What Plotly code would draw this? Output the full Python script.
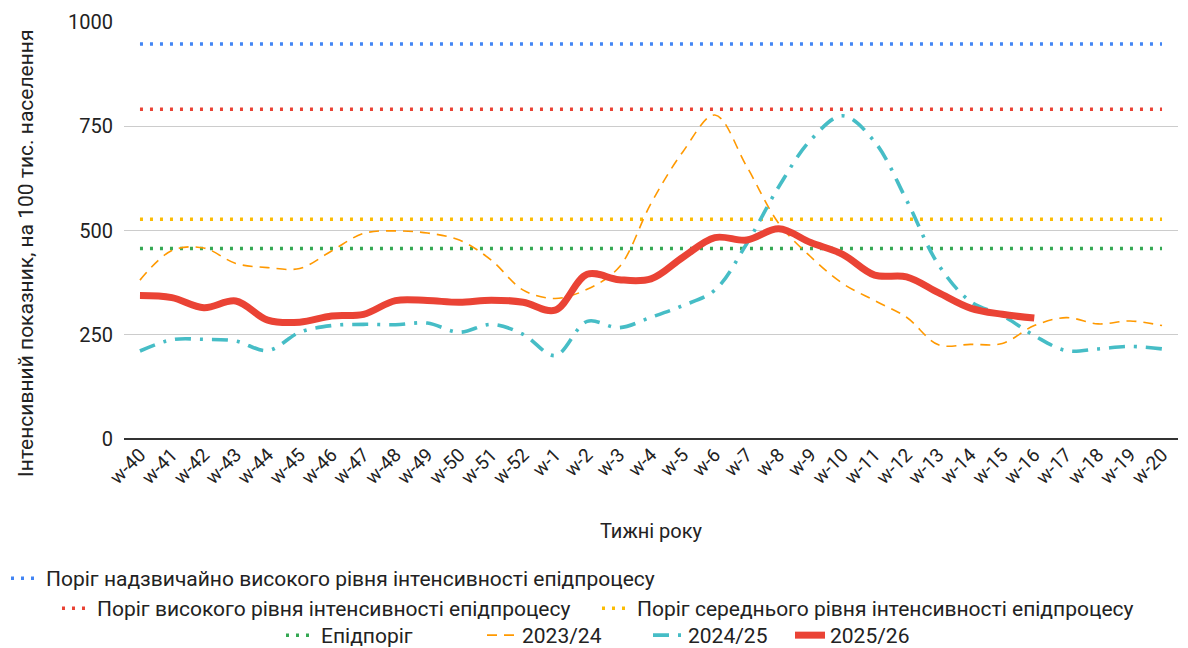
import plotly.graph_objects as go

weeks = ["w-40", "w-41", "w-42", "w-43", "w-44", "w-45", "w-46", "w-47", "w-48", "w-49",
         "w-50", "w-51", "w-52", "w-1", "w-2", "w-3", "w-4", "w-5", "w-6", "w-7", "w-8",
         "w-9", "w-10", "w-11", "w-12", "w-13", "w-14", "w-15", "w-16", "w-17", "w-18",
         "w-19", "w-20"]

very_high_threshold = 947
high_threshold = 791
medium_threshold = 527
epi_threshold = 457

s2023 = [381, 452, 458, 421, 411, 409, 451, 493, 499, 494, 477, 429, 357, 337, 359, 412,
         565, 689, 777, 653, 517, 437, 373, 332, 292, 226, 227, 229, 272, 291, 276, 283, 272]
s2024 = [211, 238, 239, 235, 212, 256, 272, 275, 274, 278, 256, 275, 251, 200, 282, 267,
         292, 320, 357, 469, 605, 717, 775, 713, 573, 418, 330, 296, 248, 212, 216, 222, 216]
s2025 = [344, 339, 315, 331, 285, 280, 295, 299, 332, 332, 328, 333, 328, 309, 395, 382,
         384, 436, 483, 477, 504, 471, 443, 393, 389, 351, 314, 299, 290]

y_title = "Інтенсивний показник, на 100 тис. населення"
x_title = "Тижні року"

FONT = "Roboto, Arial, sans-serif"
TXT = "#222222"

fig = go.Figure()
n = len(weeks)

def thr(name, val, color, legend):
    fig.add_trace(go.Scatter(
        x=weeks, y=[val] * n, mode="lines", name=name,
        line=dict(color=color, width=3.5, dash="3px,7px"),
        legend=legend, hoverinfo="skip"))

thr("Поріг надзвичайно високого рівня інтенсивності епідпроцесу", very_high_threshold, "#4285F4", "legend")
thr("Поріг високого рівня інтенсивності епідпроцесу", high_threshold, "#EA4335", "legend2")
thr("Поріг середнього рівня інтенсивності епідпроцесу", medium_threshold, "#FBBC04", "legend3")
thr("Епідпоріг", epi_threshold, "#34A853", "legend4")

fig.add_trace(go.Scatter(x=weeks, y=s2023, mode="lines", name="2023/24",
                         line=dict(color="#FF9900", width=1.6, dash="10px,7px",
                                   shape="spline", smoothing=1.0),
                         legend="legend5"))
fig.add_trace(go.Scatter(x=weeks, y=s2024, mode="lines", name="2024/25",
                         line=dict(color="#46BDC6", width=3.6, dash="16px,9px,3px,9px",
                                   shape="spline", smoothing=1.0),
                         legend="legend6"))
fig.add_trace(go.Scatter(x=weeks[:len(s2025)], y=s2025, mode="lines", name="2025/26",
                         line=dict(color="#EA4335", width=7, shape="spline", smoothing=1.0),
                         legend="legend7"))

L, R, T, B = 124, 10, 22, 209
W, H = 1188, 648
pw = W - L - R
ph = H - T - B

def px_x(px):
    return (px - L) / pw

def px_y(py):
    return (H - B - py) / ph

leg_common = dict(orientation="h", bgcolor="rgba(0,0,0,0)",
                  font=dict(family=FONT, size=21, color=TXT),
                  itemwidth=30, tracegroupgap=0, xanchor="left", yanchor="top")

ROW1, ROW2, ROW3 = 558, 588, 615

fig.update_layout(
    width=W, height=H,
    margin=dict(l=L, r=R, t=T, b=B, autoexpand=False),
    paper_bgcolor="white", plot_bgcolor="white",
    font=dict(family=FONT, color=TXT),
    showlegend=True,
    legend=dict(leg_common, x=px_x(6), y=px_y(ROW1)),
    legend2=dict(leg_common, x=px_x(57), y=px_y(ROW2)),
    legend3=dict(leg_common, x=px_x(597), y=px_y(ROW2)),
    legend4=dict(leg_common, x=px_x(281), y=px_y(ROW3)),
    legend5=dict(leg_common, x=px_x(482), y=px_y(ROW3)),
    legend6=dict(leg_common, x=px_x(648), y=px_y(ROW3)),
    legend7=dict(leg_common, x=px_x(790), y=px_y(ROW3)),
    xaxis=dict(
        type="category", range=[-0.5, n - 0.5],
        tickangle=-45, tickfont=dict(family=FONT, size=19, color=TXT),
        showgrid=False, showline=False, ticks="",
        title=dict(text=x_title, font=dict(family=FONT, size=20, color=TXT), standoff=36),
        automargin=False,
    ),
    yaxis=dict(
        range=[0, 1000], tickvals=[0, 250, 500, 750, 1000],
        tickfont=dict(family=FONT, size=20, color=TXT),
        gridcolor="#cccccc", gridwidth=1.3,
        zeroline=True, zerolinecolor="#333333", zerolinewidth=2,
        showline=False, ticks="", ticklabelstandoff=10,
        automargin=False,
    ),
    annotations=[dict(text=y_title, textangle=-90, xref="paper", yref="paper",
                      x=px_x(26), y=px_y(254), xanchor="center", yanchor="middle",
                      showarrow=False, font=dict(family=FONT, size=21, color=TXT))],
)

fig.write_html("out.html", config={"displayModeBar": False},
               post_script="document.body.style.margin='0';document.body.style.overflow='hidden';")
